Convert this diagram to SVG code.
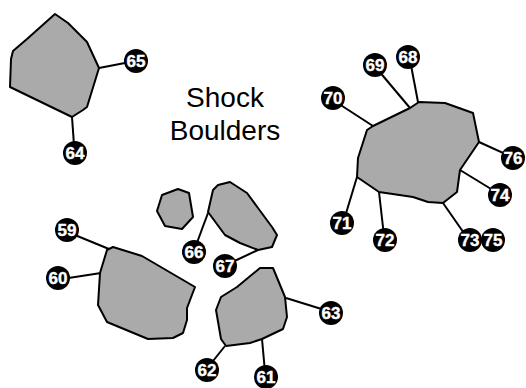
<svg xmlns="http://www.w3.org/2000/svg" width="526" height="388" viewBox="0 0 526 388">
<style>
.b{fill:#aaaaaa;stroke:#000;stroke-width:2;stroke-linejoin:round}
.c line{stroke:#000;stroke-width:2}
.l circle{fill:#000}
.l text{fill:#fff;stroke:#fff;stroke-width:0.4;font-family:"Liberation Sans",Arial,sans-serif;font-weight:bold;font-size:17px;text-anchor:middle}
.t{font-family:"Liberation Sans",Arial,sans-serif;font-size:28px;text-anchor:middle;fill:#000}
</style>
<rect width="526" height="388" fill="#fff"/>
<g id="connectors" class="c">
<line x1="99" y1="68" x2="130" y2="62"/>
<line x1="72" y1="117" x2="74" y2="145"/>
<line x1="418" y1="102" x2="410" y2="60"/>
<line x1="410" y1="108" x2="378" y2="70"/>
<line x1="373" y1="126" x2="336" y2="102"/>
<line x1="479" y1="142" x2="510" y2="156"/>
<line x1="460" y1="170" x2="496" y2="192"/>
<line x1="443" y1="203" x2="466" y2="236"/>
<line x1="379" y1="192" x2="384" y2="236"/>
<line x1="357" y1="177" x2="344" y2="220"/>
<line x1="109" y1="249" x2="70" y2="233"/>
<line x1="101" y1="273" x2="62" y2="279"/>
<line x1="208" y1="213" x2="195" y2="248"/>
<line x1="258" y1="250" x2="228" y2="264"/>
<line x1="286" y1="298" x2="328" y2="311"/>
<line x1="225" y1="346" x2="209" y2="366"/>
<line x1="262" y1="339" x2="265" y2="372"/>
</g>
<g id="boulder-a"><polygon class="b" points="55,14 68,23 87,42 99,68 87,107 83,110 72,117 10,87 11,59 13,51 27,39"/></g>
<g id="boulder-b"><polygon class="b" points="419,102 445,103 473,113 479,142 460,170 457,192 443,203 428,202 413,197 379,192 357,177 358,158 367,130 373,126 410,108"/></g>
<g id="boulder-c"><polygon class="b" points="113,247 142,256 195,287 187,308 187,320 183,333 173,338 148,339 107,322 98,305 100,273 107,250"/></g>
<g id="boulder-d"><polygon class="b" points="162,195 178,189 189,193 193,217 182,229 165,226 157,211"/></g>
<g id="boulder-e"><polygon class="b" points="218,185 230,182 247,193 258,208 272,227 277,235 272,247 258,250 240,243 225,235 208,212 213,190"/></g>
<g id="boulder-f"><polygon class="b" points="260,268 273,268 285,297 287,317 283,329 262,339 250,343 226,346 221,339 216,310 221,297 237,287"/></g>
<g id="title"><text class="t" x="225" y="107">Shock</text><text class="t" x="225" y="140">Boulders</text></g>
<g id="n65" class="l"><circle cx="136" cy="61" r="12"/><text x="136" y="67">65</text></g>
<g id="n64" class="l"><circle cx="75" cy="153" r="12"/><text x="75" y="159">64</text></g>
<g id="n68" class="l"><circle cx="408" cy="57" r="12"/><text x="408" y="63">68</text></g>
<g id="n69" class="l"><circle cx="375" cy="65" r="12"/><text x="375" y="71">69</text></g>
<g id="n70" class="l"><circle cx="333" cy="98" r="12"/><text x="333" y="104">70</text></g>
<g id="n76" class="l"><circle cx="513" cy="158" r="12"/><text x="513" y="164">76</text></g>
<g id="n74" class="l"><circle cx="500" cy="195" r="12"/><text x="500" y="201">74</text></g>
<g id="n73" class="l"><circle cx="470" cy="240" r="12"/><text x="470" y="246">73</text></g>
<g id="n75" class="l"><circle cx="493" cy="240" r="12"/><text x="493" y="246">75</text></g>
<g id="n72" class="l"><circle cx="385" cy="240" r="12"/><text x="385" y="246">72</text></g>
<g id="n71" class="l"><circle cx="342" cy="223" r="12"/><text x="342" y="229">71</text></g>
<g id="n59" class="l"><circle cx="67" cy="230" r="12"/><text x="67" y="236">59</text></g>
<g id="n60" class="l"><circle cx="58" cy="278" r="12"/><text x="58" y="284">60</text></g>
<g id="n66" class="l"><circle cx="194" cy="252" r="12"/><text x="194" y="258">66</text></g>
<g id="n67" class="l"><circle cx="225" cy="266" r="12"/><text x="225" y="272">67</text></g>
<g id="n63" class="l"><circle cx="331" cy="313" r="12"/><text x="331" y="319">63</text></g>
<g id="n62" class="l"><circle cx="207" cy="370" r="12"/><text x="207" y="376">62</text></g>
<g id="n61" class="l"><circle cx="266" cy="377" r="12"/><text x="266" y="383">61</text></g>
</svg>
